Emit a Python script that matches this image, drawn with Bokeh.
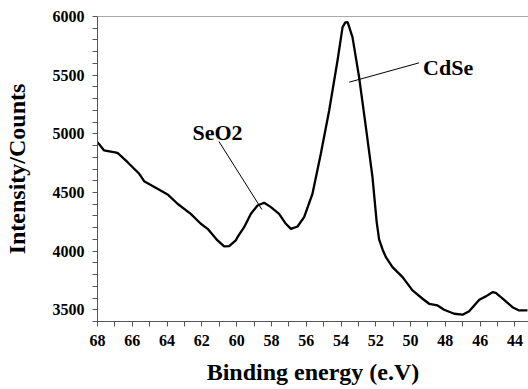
from bokeh.plotting import figure
from bokeh.models import Range1d, FixedTicker, Span, Label
from bokeh.embed import file_html
from bokeh.resources import INLINE

# ---- data ----
binding_energy = [68.0, 67.62, 66.85, 66.27, 65.6, 65.32, 64.55, 63.97, 63.4, 62.64,
                  62.06, 61.67, 61.1, 60.72, 60.43, 60.05, 59.95, 59.57, 59.18, 58.8,
                  58.42, 58.03, 57.56, 57.17, 56.88, 56.5, 56.12, 55.64, 55.16, 54.68,
                  54.2, 53.91, 53.75, 53.62, 53.34, 52.96, 52.57, 52.19, 51.95, 51.81,
                  51.6, 51.42, 51.04, 50.46, 49.89, 49.31, 48.93, 48.45, 48.07, 47.49,
                  47.01, 46.63, 46.05, 45.67, 45.29, 45.1, 44.62, 44.14, 43.76, 43.28]
intensity = [4929, 4858, 4838, 4758, 4659, 4596, 4531, 4483, 4404, 4318,
             4233, 4190, 4091, 4040, 4042, 4091, 4119, 4204, 4318, 4389,
             4412, 4375, 4318, 4233, 4190, 4210, 4290, 4489, 4830, 5199,
             5625, 5909, 5950, 5952, 5824, 5483, 5057, 4630, 4250, 4100,
             4010, 3949, 3863, 3778, 3665, 3594, 3551, 3537, 3500, 3466,
             3458, 3488, 3585, 3614, 3650, 3645, 3585, 3522, 3494, 3494]

x_major_ticks = [68, 66, 64, 62, 60, 58, 56, 54, 52, 50, 48, 46, 44]
x_minor_ticks = [67, 65, 63, 61, 59, 57, 55, 53, 51, 49, 47, 45, 43]
y_major_ticks = [3500, 4000, 4500, 5000, 5500, 6000]
y_minor_ticks = [3400, 3600, 3700, 3800, 3900, 4100, 4200, 4300, 4400, 4600, 4700,
                 4800, 4900, 5100, 5200, 5300, 5400, 5600, 5700, 5800, 5900]

annotations = ["SeO2", "CdSe"]
annotation_text_xy = [(62.54, 5014), (49.28, 5568)]
leader_start = [(61.02, 4935), (49.51, 5605)]
leader_end = [(58.55, 4355), (53.53, 5440)]

FONT = "Liberation Serif"
AXIS_COLOR = "#555555"

p = figure(width=528, height=389, output_backend="svg", toolbar_location=None,
           x_range=Range1d(68, 43.22), y_range=Range1d(3400, 6000),
           min_border_left=97, min_border_right=0, min_border_top=16,
           min_border_bottom=68)
p.grid.visible = False
p.outline_line_color = None
p.background_fill_color = "white"
p.border_fill_color = "white"

p.line(binding_energy, intensity, line_color="black", line_width=2.3)

# leader lines
p.segment(x0=[s[0] for s in leader_start], y0=[s[1] for s in leader_start],
          x1=[e[0] for e in leader_end], y1=[e[1] for e in leader_end],
          line_color="black", line_width=1)

for txt, (tx, ty) in zip(annotations, annotation_text_xy):
    p.add_layout(Label(x=tx, y=ty, text=txt, text_font=FONT, text_font_style="bold",
                       text_font_size="22px", text_color="black",
                       text_baseline="alphabetic", text_align="left"))

p.add_layout(Span(location=6000, dimension="width", line_color=AXIS_COLOR, line_width=1))

p.xaxis.ticker = FixedTicker(ticks=x_major_ticks, minor_ticks=x_minor_ticks)
p.yaxis.ticker = FixedTicker(ticks=y_major_ticks, minor_ticks=y_minor_ticks)

for ax in (p.xaxis[0], p.yaxis[0]):
    ax.axis_line_color = AXIS_COLOR
    ax.major_tick_line_color = AXIS_COLOR
    ax.minor_tick_line_color = AXIS_COLOR
    ax.major_tick_in = 0
    ax.major_tick_out = 5
    ax.minor_tick_in = 0
    ax.minor_tick_out = 5
    ax.major_label_text_font = FONT
    ax.major_label_text_font_style = "bold"
    ax.major_label_text_font_size = "16px"
    ax.major_label_text_color = "black"
    ax.axis_label_text_font = FONT
    ax.axis_label_text_font_style = "bold"
    ax.axis_label_text_font_size = "24px"
    ax.axis_label_text_color = "black"

p.xaxis.axis_label = "Binding energy (e.V)"
p.yaxis.axis_label = "Intensity/Counts"
p.xaxis.major_label_standoff = 8
p.xaxis.axis_label_standoff = 10
p.yaxis.major_label_standoff = 8
p.yaxis.axis_label_standoff = 20

open("out.html", "w").write(file_html(p, INLINE))
